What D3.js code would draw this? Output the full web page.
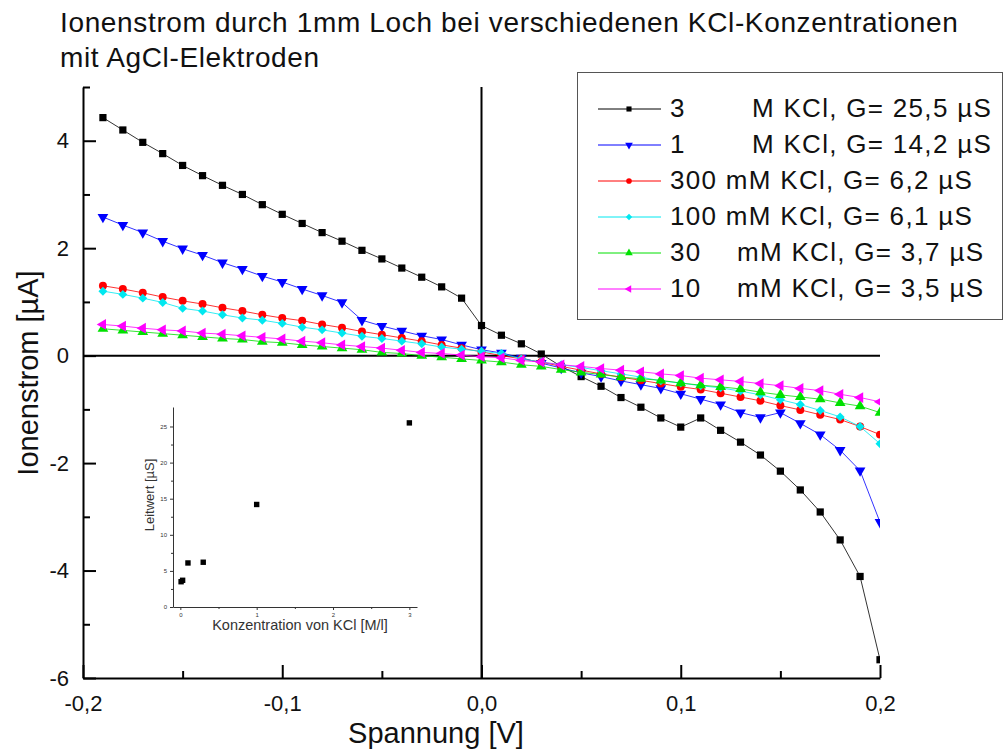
<!DOCTYPE html>
<html>
<head>
<meta charset="utf-8">
<script src="https://cdn.jsdelivr.net/npm/d3@7"></script>
<style>
  body { margin: 0; background: #fff; }
  svg { font-family: "Liberation Sans", Arial, sans-serif; }
</style>
</head>
<body>
<div id="chart"></div>
<script>
// voltage steps (V)
const spannung = [-0.19,-0.18,-0.17,-0.16,-0.15,-0.14,-0.13,-0.12,-0.11,-0.10,
  -0.09,-0.08,-0.07,-0.06,-0.05,-0.04,-0.03,-0.02,-0.01,0.00,
  0.01,0.02,0.03,0.04,0.05,0.06,0.07,0.08,0.09,0.10,
  0.11,0.12,0.13,0.14,0.15,0.16,0.17,0.18,0.19,0.20];

// ion current (µA) per concentration
const kcl3M = [4.43,4.20,3.97,3.76,3.54,3.35,3.17,3.00,2.81,2.63,
  2.46,2.29,2.13,1.96,1.80,1.63,1.46,1.28,1.07,0.56,
  0.38,0.22,0.03,-0.20,-0.39,-0.57,-0.78,-0.96,-1.16,-1.33,
  -1.16,-1.39,-1.61,-1.85,-2.15,-2.50,-2.91,-3.43,-4.11,-5.66];
const kcl1M = [2.58,2.43,2.29,2.13,1.99,1.87,1.73,1.61,1.48,1.37,
  1.24,1.12,0.99,0.66,0.55,0.46,0.37,0.30,0.20,0.11,
  0.05,-0.04,-0.14,-0.23,-0.32,-0.39,-0.47,-0.54,-0.61,-0.71,
  -0.81,-0.91,-1.06,-1.15,-1.06,-1.26,-1.47,-1.76,-2.14,-3.10];
const kcl300mM = [1.30,1.24,1.17,1.09,1.02,0.96,0.89,0.83,0.76,0.70,
  0.65,0.58,0.52,0.45,0.39,0.33,0.27,0.20,0.14,0.07,
  0.00,-0.06,-0.12,-0.20,-0.27,-0.34,-0.40,-0.46,-0.52,-0.58,
  -0.63,-0.70,-0.77,-0.84,-0.93,-1.01,-1.10,-1.19,-1.32,-1.47];
const kcl100mM = [1.20,1.14,1.07,0.99,0.88,0.83,0.76,0.70,0.66,0.60,
  0.53,0.48,0.42,0.36,0.32,0.27,0.22,0.16,0.12,0.08,
  0.04,-0.06,-0.12,-0.17,-0.22,-0.28,-0.34,-0.40,-0.47,-0.51,
  -0.56,-0.60,-0.66,-0.73,-0.82,-0.91,-1.02,-1.14,-1.32,-1.64];
const kcl30mM = [0.50,0.47,0.44,0.41,0.38,0.35,0.32,0.30,0.26,0.24,
  0.20,0.17,0.14,0.11,0.06,0.04,0.00,-0.03,-0.06,-0.09,
  -0.12,-0.17,-0.20,-0.26,-0.31,-0.35,-0.40,-0.43,-0.46,-0.51,
  -0.55,-0.58,-0.62,-0.68,-0.73,-0.77,-0.81,-0.88,-0.94,-1.06];
const kcl10mM = [0.58,0.55,0.51,0.48,0.46,0.42,0.40,0.37,0.34,0.31,
  0.27,0.24,0.20,0.17,0.14,0.10,0.06,0.04,0.01,-0.02,
  -0.04,-0.09,-0.12,-0.17,-0.20,-0.24,-0.27,-0.30,-0.34,-0.37,
  -0.42,-0.45,-0.48,-0.52,-0.56,-0.61,-0.65,-0.72,-0.78,-0.86];

const legendNum = ["3", "1", "300", "100", "30", "10"];
const legendRest = ["M KCl, G= 25,5 µS", "M KCl, G= 14,2 µS", "mM KCl, G= 6,2 µS",
  "mM KCl, G= 6,1 µS", "mM KCl, G= 3,7 µS", "mM KCl, G= 3,5 µS"];

// inset: conductance vs concentration
const konzentration = [0.01, 0.03, 0.1, 0.3, 1, 3];
const leitwert = [3.5, 3.7, 6.1, 6.2, 14.2, 25.5];

const xTicks = [-0.2, -0.1, 0, 0.1, 0.2];
const yTicks = [-6, -4, -2, 0, 2, 4];

const series = [
  {vals: kcl3M,    color: "#000000", sym: d3.symbolSquare,   rot: 0,   size: 52},
  {vals: kcl1M,    color: "#0000ff", sym: d3.symbolTriangle, rot: 180, size: 50},
  {vals: kcl300mM, color: "#ff0000", sym: d3.symbolCircle,   rot: 0,   size: 50},
  {vals: kcl100mM, color: "#00e8f0", sym: d3.symbolSquare,   rot: 45,  size: 40},
  {vals: kcl30mM,  color: "#00e000", sym: d3.symbolTriangle, rot: 0,   size: 50},
  {vals: kcl10mM,  color: "#ff00ff", sym: d3.symbolTriangle, rot: -90, size: 50}
];

const W = 1004, H = 751;
const svg = d3.select("#chart").append("svg")
  .attr("width", W).attr("height", H);

const x = d3.scaleLinear().domain([-0.2, 0.2]).range([83, 880]);
const y = d3.scaleLinear().domain([-6, 5]).range([678, 87]);
const fmt = d => d3.format(".1f")(d).replace(".", ",").replace("−", "-");

// title
svg.append("text").attr("x", 60).attr("y", 32)
  .style("font-size", "28px").style("letter-spacing", "0.65px").attr("fill", "#111")
  .text("Ionenstrom durch 1mm Loch bei verschiedenen KCl-Konzentrationen");
svg.append("text").attr("x", 60).attr("y", 67)
  .style("font-size", "28px").style("letter-spacing", "0.65px").attr("fill", "#111")
  .text("mit AgCl-Elektroden");

// zero lines
svg.append("line")
  .attr("x1", x(0)).attr("x2", x(0)).attr("y1", y(5)).attr("y2", y(-6))
  .attr("stroke", "#000").attr("stroke-width", 2);
svg.append("line")
  .attr("x1", x(-0.2)).attr("x2", x(0.2)).attr("y1", y(0)).attr("y2", y(0))
  .attr("stroke", "#000").attr("stroke-width", 2);

// axes
const xAxis = svg.append("g").attr("transform", `translate(0,${y(-6)})`)
  .call(d3.axisBottom(x).tickValues(xTicks).tickSizeInner(-13).tickSizeOuter(0)
    .tickPadding(17).tickFormat(fmt));
svg.append("g").attr("transform", `translate(0,${y(-6)})`)
  .call(d3.axisBottom(x).tickValues([-0.15, -0.05, 0.05, 0.15]).tickSize(-7).tickFormat(""))
  .select(".domain").remove();

const yAxis = svg.append("g").attr("transform", `translate(${x(-0.2)},0)`)
  .call(d3.axisLeft(y).tickValues(yTicks).tickSizeInner(-13).tickSizeOuter(0)
    .tickPadding(14).tickFormat(d => String(d)));
svg.append("g").attr("transform", `translate(${x(-0.2)},0)`)
  .call(d3.axisLeft(y).tickValues([-5, -3, -1, 1, 3, 5]).tickSize(-7).tickFormat(""))
  .select(".domain").remove();

svg.selectAll(".domain").attr("stroke-width", 2);
svg.selectAll(".tick line").attr("stroke-width", 2);
xAxis.selectAll("text").style("font-size", "22px").attr("fill", "#111").attr("font-family", null);
yAxis.selectAll("text").style("font-size", "22px").attr("fill", "#111").attr("font-family", null);

// axis titles
svg.append("text").attr("x", 436).attr("y", 743).attr("text-anchor", "middle")
  .style("font-size", "29px").attr("fill", "#111").text("Spannung [V]");
svg.append("text").attr("transform", "translate(38,373) rotate(-90)")
  .attr("text-anchor", "middle").style("font-size", "29px").attr("fill", "#111")
  .text("Ionenstrom [µA]");

// data
svg.append("clipPath").attr("id", "plotclip").append("rect")
  .attr("x", x(-0.2)).attr("y", y(5)).attr("width", x(0.2) - x(-0.2)).attr("height", y(-6) - y(5));
const plot = svg.append("g").attr("clip-path", "url(#plotclip)");

const line = d3.line().x((d, i) => x(spannung[i])).y(d => y(d));
series.forEach(s => {
  plot.append("path").datum(s.vals)
    .attr("d", line).attr("fill", "none")
    .attr("stroke", s.color).attr("stroke-width", 1).attr("stroke-opacity", 0.8);
  plot.append("g").selectAll("path").data(s.vals).join("path")
    .attr("d", d3.symbol().type(s.sym).size(s.size))
    .attr("transform", (d, i) => `translate(${x(spannung[i])},${y(d)}) rotate(${s.rot})`)
    .attr("fill", s.color);
});

// legend
const lg = svg.append("g");
lg.append("rect").attr("x", 577.5).attr("y", 72.5).attr("width", 425).attr("height", 247)
  .attr("fill", "#fff").attr("stroke", "#555").attr("stroke-width", 1);
const restX = [752, 752, null, null, 737, 737];
series.forEach((s, i) => {
  const ry = 109 + i * 36;
  lg.append("line").attr("x1", 598).attr("x2", 661).attr("y1", ry).attr("y2", ry)
    .attr("stroke", s.color).attr("stroke-width", 1);
  lg.append("path").attr("d", d3.symbol().type(s.sym).size(s.size * 0.5))
    .attr("transform", `translate(629,${ry}) rotate(${s.rot})`).attr("fill", s.color);
  const t = lg.append("text").attr("y", ry + 8).style("font-size", "26px")
    .style("letter-spacing", "1.3px").attr("fill", "#111");
  if (restX[i] === null) {
    t.append("tspan").attr("x", 670).text(legendNum[i] + " " + legendRest[i]);
  } else {
    t.append("tspan").attr("x", 670).text(legendNum[i]);
    t.append("tspan").attr("x", restX[i]).text(legendRest[i]);
  }
});

// inset
const xi = d3.scaleLinear().domain([-0.096, 3.1]).range([173, 417]);
const yi = d3.scaleLinear().domain([0, 27.7]).range([607, 407]);
const inset = svg.append("g");
inset.append("g").attr("transform", `translate(0,${yi(0)})`)
  .call(d3.axisBottom(xi).tickValues([0, 1, 2, 3]).tickSize(3).tickSizeOuter(0).tickPadding(3)
    .tickFormat(d3.format("d")));
inset.append("g").attr("transform", `translate(0,${yi(0)})`)
  .call(d3.axisBottom(xi).tickValues([0.5, 1.5, 2.5]).tickSize(2).tickFormat(""))
  .select(".domain").remove();
inset.append("g").attr("transform", `translate(${xi(-0.096)},0)`)
  .call(d3.axisLeft(yi).tickValues([0, 5, 10, 15, 20, 25]).tickSize(3).tickSizeOuter(0).tickPadding(3)
    .tickFormat(d3.format("d")));
inset.append("g").attr("transform", `translate(${xi(-0.096)},0)`)
  .call(d3.axisLeft(yi).tickValues([2.5, 7.5, 12.5, 17.5, 22.5]).tickSize(2).tickFormat(""))
  .select(".domain").remove();
inset.selectAll(".domain, .tick line").attr("stroke", "#333");
inset.selectAll("text").style("font-size", "6px").attr("fill", "#333").attr("font-family", null);

inset.selectAll("rect.pt").data(leitwert).join("rect").attr("class", "pt")
  .attr("x", (d, i) => xi(konzentration[i]) - 2.7).attr("y", d => yi(d) - 2.7)
  .attr("width", 5.4).attr("height", 5.4).attr("fill", "#000");

inset.append("text").attr("x", 300).attr("y", 630).attr("text-anchor", "middle")
  .style("font-size", "14.5px").attr("fill", "#333").text("Konzentration von KCl [M/l]");
inset.append("text").attr("transform", "translate(154,495) rotate(-90)")
  .attr("text-anchor", "middle").style("font-size", "13px").attr("fill", "#333")
  .text("Leitwert [µS]");
</script>
</body>
</html>
